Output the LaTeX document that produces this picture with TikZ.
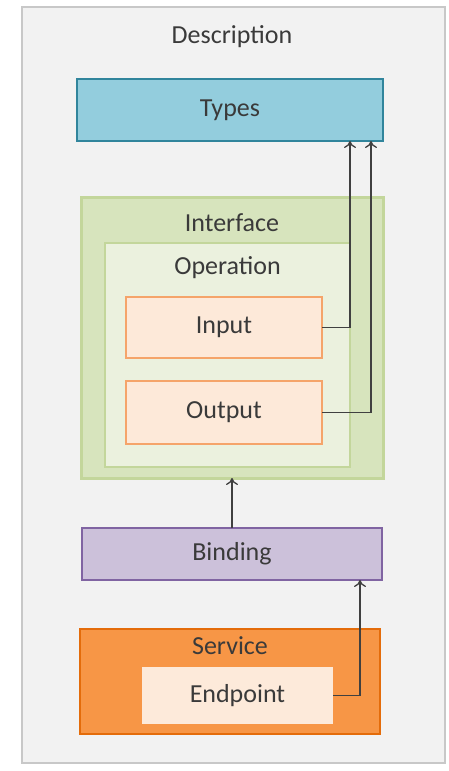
\documentclass[tikz,border=0pt]{standalone}
\usepackage{fontspec}
\setmainfont{Carlito}
\usetikzlibrary{arrows.meta}
\definecolor{txt}{HTML}{3A3A3A}
\definecolor{outerfill}{HTML}{F2F2F2}
\definecolor{outerline}{HTML}{C8C8C8}
\definecolor{typesfill}{HTML}{93CDDD}
\definecolor{typesline}{HTML}{31859C}
\definecolor{iffill}{HTML}{D7E4BD}
\definecolor{ifline}{HTML}{C3D69B}
\definecolor{opfill}{HTML}{EBF1DE}
\definecolor{iofill}{HTML}{FDE9D9}
\definecolor{ioline}{HTML}{F5A46A}
\definecolor{bindfill}{HTML}{CCC1DA}
\definecolor{bindline}{HTML}{8064A2}
\definecolor{svcfill}{HTML}{F79646}
\definecolor{svcline}{HTML}{E46C0A}
\definecolor{epfill}{HTML}{FDEADA}
\definecolor{arrcol}{HTML}{404040}
\tikzset{
  box/.style={rectangle, inner sep=0pt, outer sep=0pt},
  lbl/.style={text=txt, font=\fontsize{26}{30}\selectfont, inner sep=0pt},
  arr/.style={draw=arrcol, line width=1.3pt, -{To[length=7pt,width=12pt]}},
}
\begin{document}
\begin{tikzpicture}[x=1pt,y=-1pt]
\useasboundingbox (0,0) rectangle (449,771);
\node[box, fill=outerfill, draw=outerline, line width=1.5pt, minimum width=423pt, minimum height=756pt] (desc) at (233.5,385) {};
\node[lbl] (desclbl) at (232,37) {Description};
\node[box, fill=typesfill, draw=typesline, line width=2pt, minimum width=306pt, minimum height=62pt] (types) at (230,110) {};
\node[lbl] (typeslbl) at (230,110) {Types};
\node[box, fill=iffill, draw=ifline, line width=3pt, minimum width=302pt, minimum height=281pt] (iface) at (232,337.5) {};
\node[lbl] (ifacelbl) at (232,223) {Interface};
\node[box, fill=opfill, draw=ifline, line width=1.5pt, minimum width=245pt, minimum height=224pt] (oper) at (227.5,355) {};
\node[lbl] (operlbl) at (227.5,268) {Operation};
\node[box, fill=iofill, draw=ioline, line width=2pt, minimum width=196pt, minimum height=61pt] (input) at (224,327.5) {};
\node[lbl] (inputlbl) at (224,327.5) {Input};
\node[box, fill=iofill, draw=ioline, line width=2pt, minimum width=196pt, minimum height=63pt] (output) at (224,412.5) {};
\node[lbl] (outputlbl) at (224,412.5) {Output};
\node[box, fill=bindfill, draw=bindline, line width=2pt, minimum width=300pt, minimum height=52pt] (bind) at (232,554) {};
\node[lbl] (bindlbl) at (232,554) {Binding};
\node[box, fill=svcfill, draw=svcline, line width=2pt, minimum width=300pt, minimum height=105pt] (svc) at (230,681.5) {};
\node[lbl] (svclbl) at (230,646) {Service};
\node[box, fill=epfill, minimum width=191pt, minimum height=57pt] (ep) at (237.5,695.5) {};
\node[lbl] (eplbl) at (237.5,695.5) {Endpoint};
\coordinate (t1) at ([xshift=-33pt]types.south east);
\coordinate (t2) at ([xshift=-12pt]types.south east);
\coordinate (b1) at ([xshift=-22pt]bind.south east);
\draw[arr] (input.east) -| (t1);
\draw[arr] (output.east) -| (t2);
\draw[arr] (bind.north) -- (iface.south);
\draw[arr] (ep.east) -| (b1);
\end{tikzpicture}
\end{document}
